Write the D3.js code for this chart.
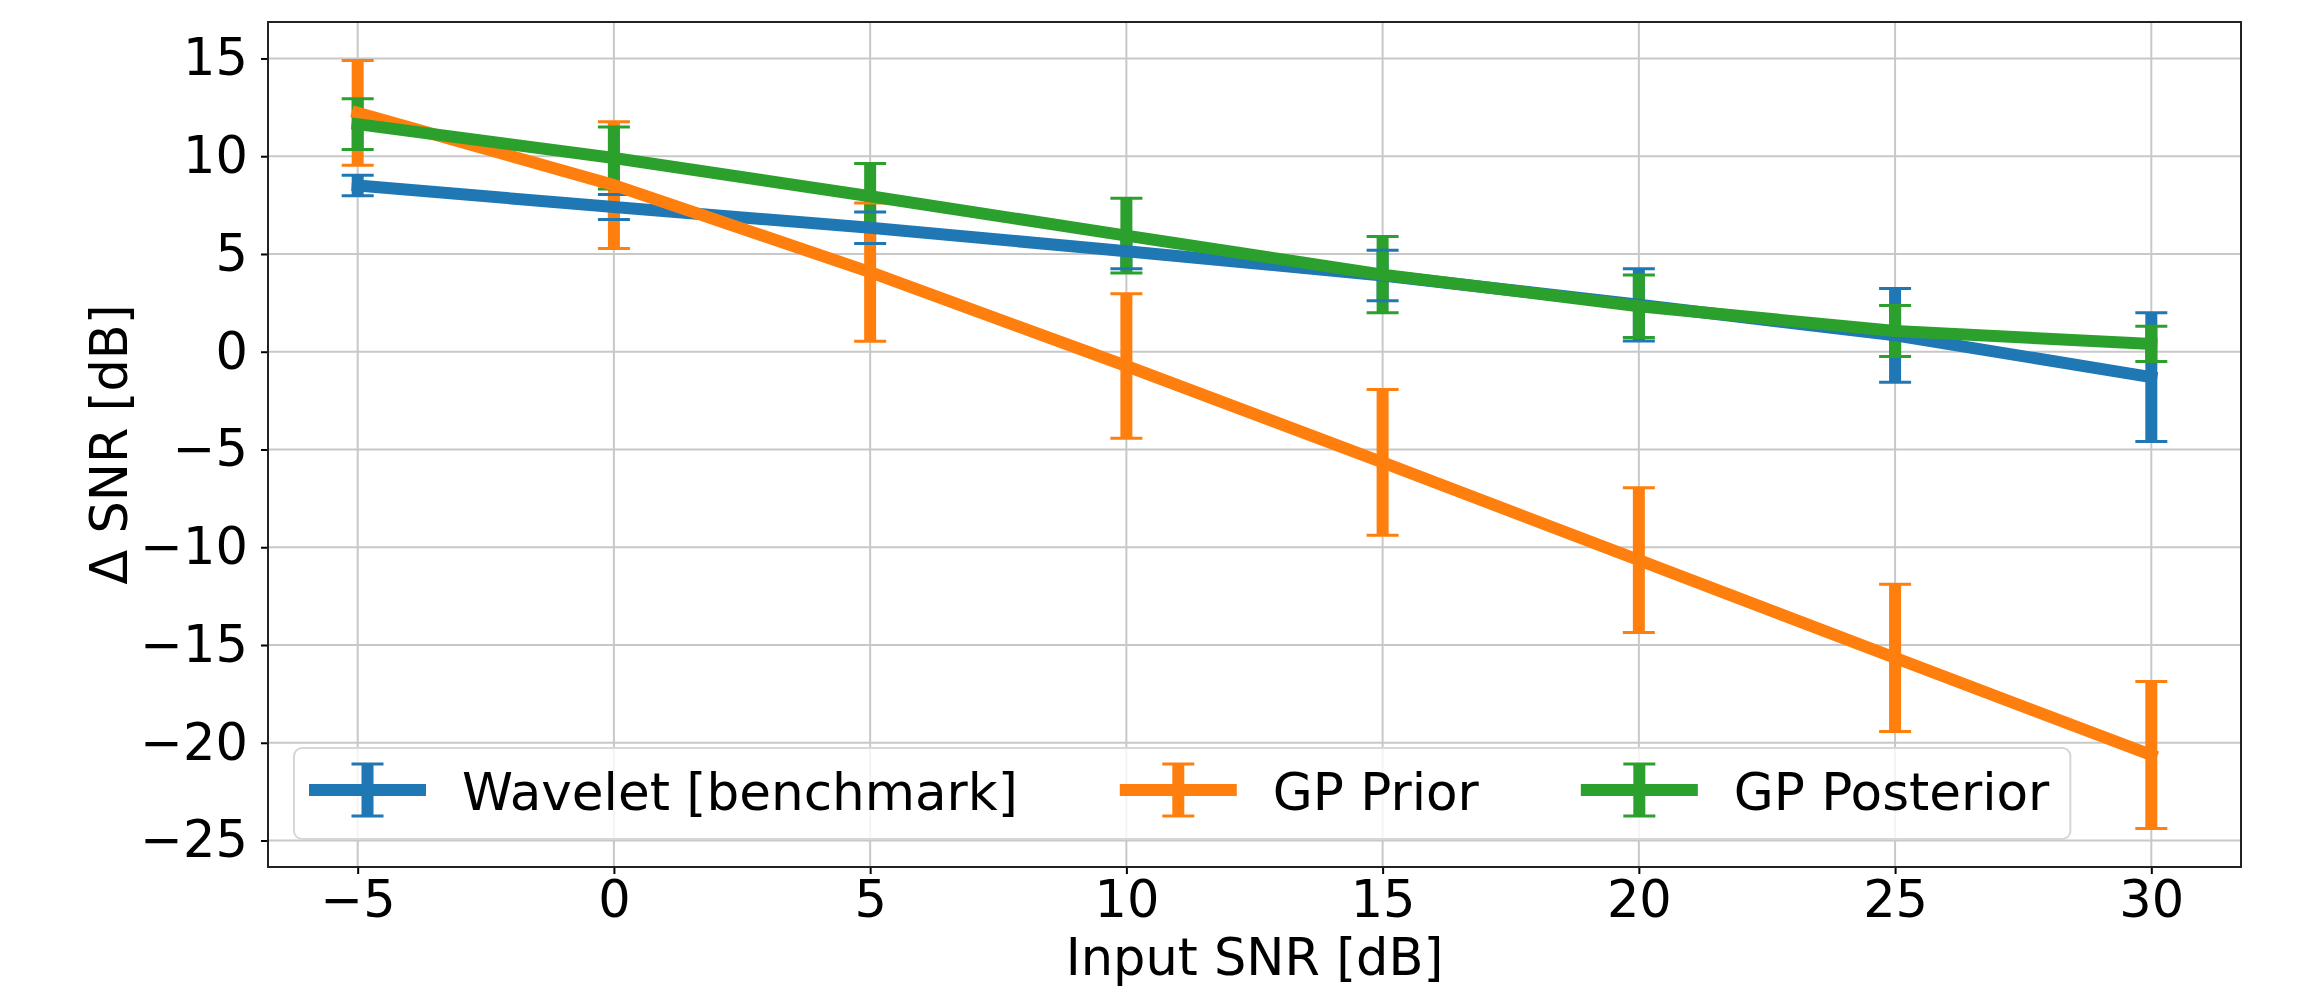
<!DOCTYPE html>
<html>
<head>
<meta charset="utf-8">
<script src="https://cdn.jsdelivr.net/npm/d3@7"></script>
<style>
  body { margin: 0; background: #fff; }
  text { font-family: "DejaVu Sans", sans-serif; fill: #000; }
</style>
</head>
<body>
<div id="chart"></div>
<script>
// input SNR values (x axis)
var inputSnr = [-5, 0, 5, 10, 15, 20, 25, 30];

// series names
var seriesNames = ["Wavelet [benchmark]", "GP Prior", "GP Posterior"];

// mean delta SNR per series
var waveletMean = [8.5, 7.4, 6.34, 5.14, 3.9, 2.4, 0.84, -1.3];
var priorMean = [12.22, 8.52, 4.07, -0.73, -5.66, -10.66, -15.66, -20.63];
var posteriorMean = [11.64, 9.91, 7.95, 5.94, 3.94, 2.33, 1.06, 0.4];

// error bar half-lengths
var waveletErr = [0.52, 0.64, 0.81, 0.9, 1.29, 1.85, 2.4, 3.29];
var priorErr = [2.68, 3.24, 3.54, 3.69, 3.73, 3.7, 3.77, 3.76];
var posteriorErr = [1.3, 1.59, 1.68, 1.91, 1.95, 1.6, 1.3, 0.9];

// tick values
var xTicks = [-5, 0, 5, 10, 15, 20, 25, 30];
var yTicks = [-25, -20, -15, -10, -5, 0, 5, 10, 15];

var colors = ["#1f77b4", "#ff7f0e", "#2ca02c"];

var series = [
  { name: seriesNames[0], mean: waveletMean, err: waveletErr, color: colors[0] },
  { name: seriesNames[1], mean: priorMean, err: priorErr, color: colors[1] },
  { name: seriesNames[2], mean: posteriorMean, err: posteriorErr, color: colors[2] }
];

var svgWidth = 2313;
var svgHeight = 998;
var margin = { top: 22, right: 72, bottom: 131, left: 268 };
var width = svgWidth - margin.left - margin.right;
var height = svgHeight - margin.top - margin.bottom;

var lineW = 12;
var capHalf = 16;
var fontSize = 51;

var svg = d3.select("#chart")
  .append("svg")
  .attr("width", svgWidth)
  .attr("height", svgHeight);

var chartGroup = svg.append("g")
  .attr("transform", `translate(${margin.left}, ${margin.top})`);

// matplotlib style 5% padding on both axes
var xPad = (d3.max(inputSnr) - d3.min(inputSnr)) * 0.05;
var xScale = d3.scaleLinear()
  .domain([d3.min(inputSnr) - xPad, d3.max(inputSnr) + xPad])
  .range([0, width]);

var allLo = series.flatMap(s => s.mean.map((m, i) => m - s.err[i]));
var allHi = series.flatMap(s => s.mean.map((m, i) => m + s.err[i]));
var yMin = d3.min(allLo), yMax = d3.max(allHi);
var yPad = (yMax - yMin) * 0.05;
var yScale = d3.scaleLinear()
  .domain([yMin - yPad, yMax + yPad])
  .range([height, 0]);

var fmt = d => (d < 0 ? "\u2212" + Math.abs(d) : "" + d);

// grid
chartGroup.append("g")
  .selectAll("line.vgrid")
  .data(xTicks)
  .enter()
  .append("line")
  .attr("x1", d => xScale(d))
  .attr("x2", d => xScale(d))
  .attr("y1", 0)
  .attr("y2", height)
  .attr("stroke", "#c8c8c8")
  .attr("stroke-width", 2);

chartGroup.append("g")
  .selectAll("line.hgrid")
  .data(yTicks)
  .enter()
  .append("line")
  .attr("x1", 0)
  .attr("x2", width)
  .attr("y1", d => yScale(d))
  .attr("y2", d => yScale(d))
  .attr("stroke", "#c8c8c8")
  .attr("stroke-width", 2);

// axes
var bottomAxis = d3.axisBottom(xScale).tickValues(xTicks).tickFormat(fmt).tickSize(7).tickPadding(7);
var leftAxis = d3.axisLeft(yScale).tickValues(yTicks).tickFormat(fmt).tickSize(7).tickPadding(13);

var xAxisG = chartGroup.append("g")
  .attr("transform", `translate(0, ${height})`)
  .call(bottomAxis);
var yAxisG = chartGroup.append("g")
  .call(leftAxis);

[xAxisG, yAxisG].forEach(function(g) {
  g.select(".domain").remove();
  g.selectAll(".tick line").attr("stroke", "#000").attr("stroke-width", 2);
  g.selectAll("text")
    .attr("font-size", fontSize + "px")
    .attr("font-family", "DejaVu Sans")
    .attr("fill", "#000");
});

// frame
chartGroup.append("rect")
  .attr("x", 0)
  .attr("y", 0)
  .attr("width", width)
  .attr("height", height)
  .attr("fill", "none")
  .attr("stroke", "#222")
  .attr("stroke-width", 2);

// error bars first, then caps, then the data lines on top
var barLayer = chartGroup.append("g");
var capLayer = chartGroup.append("g");
var lineLayer = chartGroup.append("g");

series.forEach(function(s) {
  var pts = inputSnr.map((x, i) => ({ x: x, m: s.mean[i], e: s.err[i] }));

  barLayer.append("g")
    .selectAll("line")
    .data(pts)
    .enter()
    .append("line")
    .attr("x1", d => xScale(d.x))
    .attr("x2", d => xScale(d.x))
    .attr("y1", d => yScale(d.m + d.e))
    .attr("y2", d => yScale(d.m - d.e))
    .attr("stroke", s.color)
    .attr("stroke-width", lineW);

  var caps = pts.flatMap(d => [d.m + d.e, d.m - d.e].map(v => ({ x: d.x, v: v })));
  capLayer.append("g")
    .selectAll("line")
    .data(caps)
    .enter()
    .append("line")
    .attr("x1", d => xScale(d.x) - capHalf)
    .attr("x2", d => xScale(d.x) + capHalf)
    .attr("y1", d => yScale(d.v))
    .attr("y2", d => yScale(d.v))
    .attr("stroke", s.color)
    .attr("stroke-width", 3);

  var line = d3.line()
    .x(d => xScale(d.x))
    .y(d => yScale(d.m));

  lineLayer.append("path")
    .datum(pts)
    .attr("d", line)
    .attr("fill", "none")
    .attr("stroke", s.color)
    .attr("stroke-width", lineW)
    .attr("stroke-linecap", "square")
    .attr("stroke-linejoin", "round");
});

// axis labels
chartGroup.append("text")
  .attr("x", width / 2)
  .attr("y", 975 - margin.top)
  .attr("text-anchor", "middle")
  .attr("font-size", fontSize + "px")
  .text("Input SNR [dB]");

chartGroup.append("text")
  .attr("transform", `translate(${127 - margin.left}, ${height / 2}) rotate(-90)`)
  .attr("text-anchor", "middle")
  .attr("font-size", fontSize + "px")
  .text("\u0394 SNR [dB]");

// legend
var legendG = svg.append("g");
var legendBox = legendG.append("rect")
  .attr("x", 294)
  .attr("y", 748)
  .attr("height", 91)
  .attr("rx", 8)
  .attr("ry", 8)
  .attr("fill", "#fff")
  .attr("fill-opacity", 0.8)
  .attr("stroke", "#d6d6d6")
  .attr("stroke-width", 2);

var lx = 309;
var handleLen = 117;
var cy = 790;
series.forEach(function(s) {
  var item = legendG.append("g");
  item.append("line")
    .attr("x1", lx).attr("x2", lx + handleLen)
    .attr("y1", cy).attr("y2", cy)
    .attr("stroke", s.color).attr("stroke-width", lineW);
  var mx = lx + handleLen / 2;
  item.append("line")
    .attr("x1", mx).attr("x2", mx)
    .attr("y1", cy - 26).attr("y2", cy + 26)
    .attr("stroke", s.color).attr("stroke-width", lineW);
  [cy - 26, cy + 26].forEach(function(yy) {
    item.append("line")
      .attr("x1", mx - capHalf).attr("x2", mx + capHalf)
      .attr("y1", yy).attr("y2", yy)
      .attr("stroke", s.color).attr("stroke-width", 3);
  });
  var t = item.append("text")
    .attr("x", lx + handleLen + 36)
    .attr("y", 810)
    .attr("font-size", "51.6px")
    .text(s.name);
  var tEnd = lx + handleLen + 36 + t.node().getComputedTextLength();
  lx = tEnd + 102;
  legendBox.attr("width", tEnd + 21 - 294);
});
</script>
</body>
</html>
